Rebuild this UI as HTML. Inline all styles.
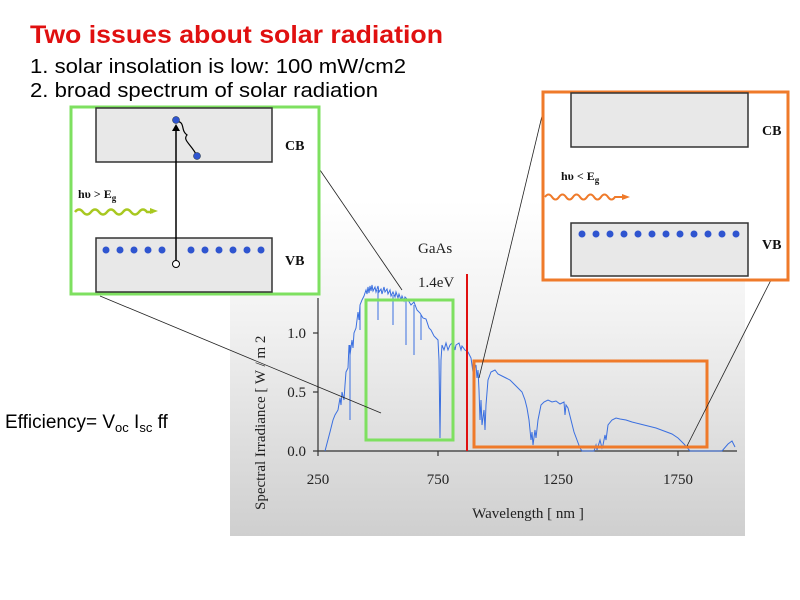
<!DOCTYPE html>
<html><head><meta charset="utf-8"><style>body{margin:0;background:#fff}svg{display:block}</style></head>
<body>
<svg width="800" height="600" viewBox="0 0 800 600" xmlns="http://www.w3.org/2000/svg">
<defs>
<linearGradient id="bg" x1="0" y1="0" x2="0" y2="1">
<stop offset="0" stop-color="#ffffff"/><stop offset="0.35" stop-color="#f2f2f2"/><stop offset="1" stop-color="#cfcfcf"/>
</linearGradient>
</defs>
<rect x="230" y="200" width="515" height="336" fill="url(#bg)"/>
<g font-family="Liberation Sans, sans-serif">
<text x="30" y="43" font-size="25" font-weight="bold" fill="#e01010" textLength="413" lengthAdjust="spacingAndGlyphs">Two issues about solar radiation</text>
<text x="30" y="73" font-size="20" fill="#000" textLength="376" lengthAdjust="spacingAndGlyphs">1. solar insolation is low: 100 mW/cm2</text>
<text x="30" y="97" font-size="20" fill="#000" textLength="348" lengthAdjust="spacingAndGlyphs">2. broad spectrum of solar radiation</text>
<text x="5" y="428" font-size="19">Efficiency= V<tspan font-size="13" dy="4">oc</tspan><tspan dy="-4"> I</tspan><tspan font-size="13" dy="4">sc</tspan><tspan dy="-4"> ff</tspan></text>
</g>
<!-- axes -->
<g stroke="#333" stroke-width="1.2" fill="none">
<line x1="318" y1="298" x2="318" y2="451"/>
<line x1="318" y1="451" x2="737" y2="451"/>
<line x1="318" y1="333" x2="313" y2="333"/><line x1="318" y1="392" x2="313" y2="392"/><line x1="318" y1="451" x2="313" y2="451"/>
<line x1="318" y1="451" x2="318" y2="456"/><line x1="438" y1="451" x2="438" y2="456"/><line x1="558" y1="451" x2="558" y2="456"/><line x1="678" y1="451" x2="678" y2="456"/>
</g>
<g font-family="Liberation Serif, serif" font-size="15" fill="#222">
<text x="306" y="338" text-anchor="end">1.0</text>
<text x="306" y="397" text-anchor="end">0.5</text>
<text x="306" y="456" text-anchor="end">0.0</text>
<text x="318" y="484" text-anchor="middle">250</text>
<text x="438" y="484" text-anchor="middle">750</text>
<text x="558" y="484" text-anchor="middle">1250</text>
<text x="678" y="484" text-anchor="middle">1750</text>
<text x="528" y="518" text-anchor="middle">Wavelength [ nm ]</text>
<text transform="translate(265,510) rotate(-90)">Spectral Irradiance [ W / m 2</text>
<text x="418" y="253">GaAs</text>
<text x="418" y="287">1.4eV</text>
</g>
<!-- spectrum -->
<path fill="none" stroke="#3a6fe0" stroke-width="1" d="M325,451 L330,432 L333,420 L335,415 L338,410 L340,398 L341,405 L342,392 L344,400 L345,385 L346,372 L348,368 L349,345 L350,355 L352,340 L353,348 L354,333 L356,328 L358,312 L359,320 L360,305 L362,300 L364,296 L366,290 L367,294 L368,287 L369,293 L370,286 L371,291 L372,285 L373,291 L375,287 L376,292 L378,286 L379,292 L381,289 L382,294 L384,287 L385,292 L387,289 L388,294 L390,290 L391,296 L393,292 L395,297 L396,292 L398,298 L399,294 L401,300 L402,296 L404,301 L405,297 L408,300 L411,305 L414,302 L417,310 L420,313 L423,318 L426,319 L429,328 L431,330 L434,336 L436,338 L438,340 L439,360 L440,438 L441,360 L442,345 L444,350 L446,343 L448,350 L450,345 L453,342 L455,350 L456,345 L459,343 L461,350 L462,346 L465,350 L468,352 L471,358 L473,372 L476,365 L477,378 L478,370 L479,390 L480,420 L481,400 L482,425 L484,410 L485,430 L486,405 L488,380 L491,372 L495,370 L498,374 L502,376 L506,378 L510,380 L514,384 L518,388 L522,392 L525,400 L527,408 L529,420 L531,440 L532,432 L533,445 L535,430 L536,438 L538,420 L541,405 L544,402 L548,400 L552,402 L556,401 L560,404 L564,402 L565,415 L566,405 L568,408 L571,420 L574,432 L577,440 L580,448 L582,451 L594,451 L596,445 L597,450 L600,440 L602,448 L603,445 L605,435 L606,440 L608,425 L612,420 L616,418 L620,419 L626,420 L632,422 L640,424 L648,426 L656,428 L664,431 L672,434 L678,438 L684,444 L690,451 L722,451 L728,444 L732,441 L735,447"/>
<g stroke="#3a6fe0" stroke-width="1">
<line x1="350" y1="345" x2="350" y2="420"/><line x1="378" y1="290" x2="378" y2="320"/><line x1="393" y1="295" x2="393" y2="325"/><line x1="406" y1="300" x2="406" y2="345"/><line x1="414" y1="305" x2="414" y2="355"/><line x1="421" y1="315" x2="421" y2="340"/><line x1="360" y1="305" x2="360" y2="330"/>
</g>
<!-- red line -->
<line x1="467" y1="274" x2="467" y2="451" stroke="#e01010" stroke-width="2"/>
<!-- chart boxes -->
<rect x="366" y="300" width="87" height="140" fill="none" stroke="#7ee060" stroke-width="3"/>
<rect x="474" y="361" width="233" height="86" fill="none" stroke="#ef7a2a" stroke-width="3"/>
<!-- connector lines -->
<g stroke="#222" stroke-width="0.8">
<line x1="320" y1="170" x2="402" y2="290"/>
<line x1="100" y1="296" x2="381" y2="413"/>
<line x1="542" y1="116" x2="479" y2="378"/>
<line x1="771" y1="280" x2="687" y2="446"/>
</g>
<!-- left green box -->
<rect x="71" y="107" width="248" height="187" fill="#fff" stroke="#7ee060" stroke-width="3"/>
<rect x="96" y="108" width="176" height="54" fill="#e8e8e8" stroke="#333" stroke-width="1.5"/>
<rect x="96" y="238" width="176" height="54" fill="#e8e8e8" stroke="#333" stroke-width="1.5"/>
<line x1="176" y1="264" x2="176" y2="128" stroke="#000" stroke-width="1.5"/>
<polygon points="172,131 180,131 176,124" fill="#000"/>
<path d="M176,121 C186,122 180,130 187,135 C182,140 192,145 197,156" fill="none" stroke="#000" stroke-width="1.2"/>
<circle cx="176" cy="120" r="3.5" fill="#2f55d0" stroke="#123" stroke-width="0.5"/>
<circle cx="197" cy="156" r="3.5" fill="#2f55d0" stroke="#123" stroke-width="0.5"/>
<circle cx="176" cy="264" r="3.5" fill="#fff" stroke="#000" stroke-width="1"/>
<g fill="#2f55d0">
<circle cx="106" cy="250" r="3.5"/><circle cx="120" cy="250" r="3.5"/><circle cx="134" cy="250" r="3.5"/><circle cx="148" cy="250" r="3.5"/><circle cx="162" cy="250" r="3.5"/>
<circle cx="191" cy="250" r="3.5"/><circle cx="205" cy="250" r="3.5"/><circle cx="219" cy="250" r="3.5"/><circle cx="233" cy="250" r="3.5"/><circle cx="247" cy="250" r="3.5"/><circle cx="261" cy="250" r="3.5"/>
</g>
<path d="M75,212 q4,-5 8,0 t8,0 t8,0 t8,0 t8,0 t8,0 t8,0 t8,0 t8,0 l6,0" fill="none" stroke="#a8c820" stroke-width="2.5"/>
<polygon points="150,208 158,211 150,214" fill="#a8c820"/>
<!-- right orange box -->
<rect x="543" y="92" width="245" height="188" fill="#fff" stroke="#ef7a2a" stroke-width="3"/>
<rect x="571" y="93" width="177" height="54" fill="#e8e8e8" stroke="#333" stroke-width="1.5"/>
<rect x="571" y="223" width="177" height="53" fill="#e8e8e8" stroke="#333" stroke-width="1.5"/>
<g fill="#2f55d0">
<circle cx="582" cy="234" r="3.5"/><circle cx="596" cy="234" r="3.5"/><circle cx="610" cy="234" r="3.5"/><circle cx="624" cy="234" r="3.5"/><circle cx="638" cy="234" r="3.5"/><circle cx="652" cy="234" r="3.5"/><circle cx="666" cy="234" r="3.5"/><circle cx="680" cy="234" r="3.5"/><circle cx="694" cy="234" r="3.5"/><circle cx="708" cy="234" r="3.5"/><circle cx="722" cy="234" r="3.5"/><circle cx="736" cy="234" r="3.5"/>
</g>
<path d="M545,197 q3.5,-5 7,0 t7,0 t7,0 t7,0 t7,0 t7,0 t7,0 t7,0 t7,0 t7,0 l8,0" fill="none" stroke="#ef7a2a" stroke-width="2"/>
<polygon points="622,194 630,197 622,200" fill="#ef7a2a"/>
<g font-family="Liberation Serif, serif" font-weight="bold" fill="#111">
<text x="285" y="150" font-size="14">CB</text>
<text x="285" y="265" font-size="14">VB</text>
<text x="78" y="198" font-size="12">hυ &gt; E<tspan font-size="9" dy="3">g</tspan></text>
<text x="762" y="135" font-size="14">CB</text>
<text x="762" y="249" font-size="14">VB</text>
<text x="561" y="180" font-size="12">hυ &lt; E<tspan font-size="9" dy="3">g</tspan></text>
</g>
</svg>
</body></html>
